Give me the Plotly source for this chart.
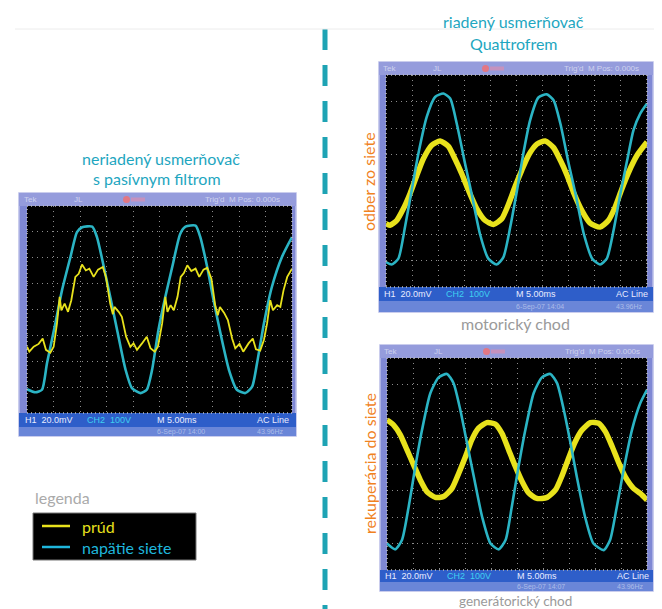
import plotly.graph_objects as go

# ---------------- data (time in ms, amplitude in screen divisions) ----------------
# left scope: uncontrolled rectifier with passive filter
left_volt_t = [0, 1.57, 2.83, 3.77, 5.35, 6.6, 8.2, 9.43, 10.4, 12.3, 13.2, 14.5, 15.7, 17.0, 18.6,
               19.8, 21.4, 22.6, 23.6, 24.8, 26.1, 27.4, 28.9, 29.9, 31.8, 32.7, 34.0, 35.2, 36.5,
               38.1, 39.6, 41.2, 42.5, 43.4, 44.7, 46.2, 48.1, 50]
left_volt_v = [-3.08, -3.2, -3.1, -2.08, -0.54, 0.74, 2.03, 2.99, 3.18, 3.2, 2.8, 1.64, 0.49, -0.79,
               -2.33, -3.04, -3.23, -3.1, -2.33, -0.79, 0.49, 1.64, 2.92, 3.2, 3.24, 2.8, 1.64, 0.36,
               -0.92, -2.33, -3.1, -3.23, -2.97, -2.08, -0.54, 0.87, 2.03, 2.8]
left_curr_t = [0, 0.44, 1.26, 2.2, 2.96, 3.58, 4.4, 5.03, 5.66, 6.16, 6.48, 7.1, 7.74, 8.36, 9.12,
               9.75, 10.38, 11.1, 11.76, 12.58, 13.4, 14.3, 14.9, 15.7, 16.2, 16.5, 17.3, 17.9, 18.7,
               19.5, 20.1, 20.75, 21.7, 22.6, 23.3, 24.1, 24.7, 25.5, 26.1, 26.5, 27.1, 27.7, 28.4,
               29.0, 29.6, 30.25, 31.0, 31.8, 32.5, 33.3, 34.0, 34.8, 35.5, 36.0, 36.4, 37.2, 37.9,
               38.7, 39.3, 40.1, 40.8, 41.8, 42.6, 43.2, 44.0, 44.7, 45.3, 45.9, 46.4, 47.2, 47.8,
               48.4, 49.1, 50]
left_curr_v = [-1.44, -1.63, -1.44, -1.33, -1.12, -1.56, -1.67, -1.44, -0.54, 0.49, -0.03, 0.23,
               -0.09, 0.36, 1.26, 1.38, 1.74, 1.51, 1.58, 1.26, 1.54, 1.64, 1.26, 0.23, -0.18, 0.1,
               -0.09, -0.28, -1.05, -1.44, -1.31, -1.56, -1.31, -1.05, -1.5, -1.63, -1.44, -0.54,
               0.49, -0.09, 0.17, -0.03, 0.49, 1.26, 1.41, 1.71, 1.49, 1.58, 1.26, 1.54, 1.61, 1.19,
               0.17, -0.22, 0.1, -0.13, -0.41, -1.12, -1.5, -1.33, -1.63, -1.31, -1.12, -1.54, -1.59,
               -1.18, -0.54, 0.36, -0.03, 0.17, 0.1, 0.74, 1.26, 1.58]

# right top scope: Quattrofrem, motoring
mot_volt_t = [0, 1.09, 2.37, 3.64, 4.92, 6.2, 7.8, 9.4, 11.0, 12.3, 13.55, 15.15, 16.4, 18.0, 19.6,
              21.2, 22.5, 23.8, 25.1, 26.3, 27.6, 29.2, 30.8, 32.1, 33.4, 35.0, 36.3, 37.9, 39.5,
              41.0, 42.3, 43.6, 44.9, 46.2, 47.4, 48.7, 50]
mot_volt_v = [-3.06, -3.15, -2.93, -1.74, -0.35, 1.03, 2.42, 3.17, 3.3, 3.11, 2.17, 0.65, -0.48,
              -2.0, -2.93, -3.15, -2.87, -1.74, -0.35, 1.03, 2.29, 3.15, 3.27, 3.05, 2.17, 0.65,
              -0.48, -2.0, -2.93, -3.15, -2.93, -1.86, -0.48, 0.78, 1.91, 2.54, 2.92]
mot_curr_t = [0, 0.77, 2.05, 3.32, 4.6, 5.9, 7.16, 8.76, 10.36, 11.96, 13.2, 14.5, 15.8, 17.4, 19.0,
              20.6, 22.2, 23.5, 24.7, 26.0, 27.3, 28.9, 30.5, 32.1, 33.4, 34.7, 35.9, 37.5, 39.1,
              41.0, 42.6, 43.9, 45.2, 46.5, 48.1, 50]
mot_curr_v = [-1.61, -1.67, -1.49, -1.05, -0.48, 0.21, 0.84, 1.35, 1.51, 1.31, 0.84, 0.28, -0.35,
              -1.05, -1.49, -1.64, -1.42, -0.86, -0.23, 0.4, 0.97, 1.39, 1.51, 1.26, 0.78, 0.21,
              -0.42, -1.11, -1.59, -1.74, -1.49, -0.98, -0.29, 0.34, 0.97, 1.47]

# right bottom scope: Quattrofrem, regenerating
gen_volt_t = [0, 1.6, 2.88, 4.17, 5.45, 6.73, 8.33, 9.94, 11.54, 12.8, 14.1, 15.4, 16.7, 18.3, 19.9,
              21.5, 22.8, 24.0, 25.3, 26.6, 28.2, 29.8, 31.4, 32.7, 34.0, 35.3, 36.5, 38.1, 39.7,
              41.7, 42.9, 44.2, 45.5, 47.1, 48.7, 50]
gen_volt_v = [-3.0, -3.22, -2.87, -1.61, -0.1, 1.28, 2.67, 3.27, 3.4, 3.05, 2.04, 0.78, -0.48, -2.0,
              -3.0, -3.22, -2.87, -1.61, -0.1, 1.28, 2.67, 3.27, 3.4, 3.05, 2.04, 0.78, -0.48, -2.0,
              -3.0, -3.25, -2.87, -1.61, -0.23, 1.28, 2.29, 2.8]
gen_curr_t = [0, 1.28, 2.56, 3.85, 5.13, 6.4, 7.7, 9.3, 10.9, 12.5, 13.8, 15.1, 16.3, 17.6, 19.2,
              20.8, 22.1, 23.4, 24.7, 26.0, 27.2, 28.8, 30.8, 32.4, 33.7, 34.9, 36.2, 37.5, 39.1,
              40.7, 42.0, 43.3, 44.6, 45.8, 47.4, 48.7, 50]
gen_curr_v = [1.66, 1.47, 1.1, 0.53, -0.04, -0.6, -1.05, -1.26, -1.23, -0.92, -0.35, 0.28, 0.91,
              1.35, 1.56, 1.51, 1.16, 0.53, -0.1, -0.67, -1.08, -1.3, -1.26, -0.98, -0.42, 0.21,
              0.84, 1.28, 1.56, 1.54, 1.22, 0.66, 0.03, -0.48, -0.92, -1.11, -1.36]

legend_labels = ["prúd", "napätie siete"]

# ---------------- styling ----------------
# the page body has an 8px margin, so the figure is drawn 8px smaller and
# all reference pixel positions are shifted by that offset
OFF = 8
W, H = 662 - OFF, 609 - OFF
FONT = "Lato"
YEL = "#e8e21c"
CYAN = "#2bb4c4"
TEAL = "#1ea6c0"
ORANGE = "#f0821e"
GRAY = "#9a9a9a"


def px(x):
    return (x - OFF) / W


def py(y):
    return 1 - (y - OFF) / H


fig = go.Figure()

# scope geometry (pixels): black area, frame
scopes = [
    dict(ax="", xd=(27, 292), yd=(206, 413), fx=(19, 296), top=(193, 206), bot=(413, 427), date=(427, 436),
         date_txt="6-Sep-07 14:00"),
    dict(ax="2", xd=(386, 647), yd=(75, 287), fx=(379, 653), top=(62, 75), bot=(287, 301), date=(301, 312),
         date_txt="6-Sep-07 14:04"),
    dict(ax="3", xd=(387, 647), yd=(358, 570), fx=(380, 653), top=(345, 358), bot=(570, 582), date=(582, 591),
         date_txt="6-Sep-07 14:07"),
]

series = [
    [(left_volt_t, left_volt_v, CYAN, 2.6, "spline"), (left_curr_t, left_curr_v, YEL, 1.8, "linear")],
    [(mot_curr_t, mot_curr_v, YEL, 5.5, "spline"), (mot_volt_t, mot_volt_v, CYAN, 2.6, "spline")],
    [(gen_curr_t, gen_curr_v, YEL, 5.5, "spline"), (gen_volt_t, gen_volt_v, CYAN, 2.6, "spline")],
]

shapes = []
annotations = []
layout_axes = {}

for sc, ser in zip(scopes, series):
    a = sc["ax"]
    xa, ya = "x" + a, "y" + a
    for t, v, col, w, shp in ser:
        fig.add_trace(go.Scatter(x=t, y=v, mode="lines", xaxis=xa, yaxis=ya,
                                 line=dict(color=col, width=w, shape=shp, smoothing=0.6),
                                 showlegend=False, hoverinfo="skip"))
    layout_axes["xaxis" + a] = dict(domain=[px(sc["xd"][0]), px(sc["xd"][1])], range=[0, 50], dtick=5,
                                    showgrid=True, gridcolor="#8c8c8c", griddash="1px,4px", gridwidth=1.2,
                                    zeroline=False, showticklabels=False, ticks="", anchor=ya,
                                    fixedrange=True)
    layout_axes["yaxis" + a] = dict(domain=[py(sc["yd"][1]), py(sc["yd"][0])], range=[-4, 4], dtick=1,
                                    showgrid=True, gridcolor="#8c8c8c", griddash="1px,4px", gridwidth=1.2,
                                    zeroline=False, showticklabels=False, ticks="", anchor=xa,
                                    fixedrange=True)
    fx0, fx1 = sc["fx"]
    # frame
    shapes.append(dict(type="rect", xref="paper", yref="paper", x0=px(fx0), x1=px(fx1),
                       y0=py(sc["date"][1]), y1=py(sc["top"][0]), fillcolor="#7f88d4",
                       line=dict(color="#b9bde8", width=1.5), layer="below"))
    shapes.append(dict(type="rect", xref="paper", yref="paper", x0=px(fx0), x1=px(fx1),
                       y0=py(sc["top"][1]), y1=py(sc["top"][0]), fillcolor="#959cdc",
                       line=dict(width=0), layer="below"))
    shapes.append(dict(type="rect", xref="paper", yref="paper", x0=px(fx0), x1=px(fx1),
                       y0=py(sc["bot"][1]), y1=py(sc["bot"][0]), fillcolor="#2e5ec9",
                       line=dict(width=0), layer="below"))
    shapes.append(dict(type="rect", xref="paper", yref="paper", x0=px(fx0), x1=px(fx1),
                       y0=py(sc["date"][1]), y1=py(sc["date"][0]), fillcolor="#6a86d8",
                       line=dict(width=0), layer="below"))
    # black screen (inside subplot so it sits above the frame)
    shapes.append(dict(type="rect", xref=xa + " domain", yref=ya + " domain", x0=0, x1=1, y0=0, y1=1,
                       fillcolor="black", line=dict(width=0), layer="below"))
    # dotted screen border
    shapes.append(dict(type="rect", xref=xa + " domain", yref=ya + " domain", x0=0, x1=1, y0=0, y1=1,
                       line=dict(color="#bdbdbd", width=1.5, dash="1px,3px"), layer="above"))
    # red trigger blob in top band
    ty = (sc["top"][0] + sc["top"][1]) / 2
    xl = sc["xd"][0]
    shapes.append(dict(type="circle", xref="paper", yref="paper", x0=px(xl + 96), x1=px(xl + 103),
                       y0=py(ty + 3.5), y1=py(ty - 3.5), fillcolor="rgba(245,110,110,0.8)",
                       line=dict(width=0), layer="below"))
    shapes.append(dict(type="rect", xref="paper", yref="paper", x0=px(xl + 104), x1=px(xl + 118),
                       y0=py(ty + 2), y1=py(ty - 2), fillcolor="rgba(230,140,170,0.6)",
                       line=dict(width=0), layer="below"))
    # top band faint texts
    for dx, txt in [(-5, "Tek"), (45, "JL"), (176, "Trig'd  M Pos: 0.000s")]:
        annotations.append(dict(x=px(xl + dx), y=py(ty), xref="paper", yref="paper", text=txt,
                                showarrow=False, xanchor="left", yanchor="middle",
                                font=dict(family="Liberation Sans", size=8, color="rgba(255,255,255,0.55)")))
    # bottom band texts
    by = (sc["bot"][0] + sc["bot"][1]) / 2
    for dx, txt, col in [(-4, "H1  20.0mV", "#e8ecff"), (58, "CH2  100V", "#3fd0f0"),
                         (128, "M 5.00ms", "#e8ecff"), (228, "AC Line", "#e8ecff")]:
        annotations.append(dict(x=px(xl + dx), y=py(by), xref="paper", yref="paper", text=txt,
                                showarrow=False, xanchor="left", yanchor="middle",
                                font=dict(family="Liberation Sans", size=9, color=col)))
    dy = (sc["date"][0] + sc["date"][1]) / 2
    for dx, txt in [(128, sc["date_txt"]), (228, "43.96Hz")]:
        annotations.append(dict(x=px(xl + dx), y=py(dy), xref="paper", yref="paper", text=txt,
                                showarrow=False, xanchor="left", yanchor="middle",
                                font=dict(family="Liberation Sans", size=7, color="rgba(255,255,255,0.45)")))

# dashed divider
shapes.append(dict(type="line", xref="paper", yref="paper", x0=px(325), x1=px(325), y0=py(29), y1=py(640),
                   line=dict(color="#1ea3b4", width=5, dash="21px,15px")))
# faint top line
shapes.append(dict(type="line", xref="paper", yref="paper", x0=px(15), x1=px(655), y0=py(29), y1=py(29),
                   line=dict(color="#ececec", width=1)))


def text(x, y, s, color, size, angle=0, anchor="center"):
    annotations.append(dict(x=px(x), y=py(y), xref="paper", yref="paper", text=s, showarrow=False,
                            xanchor=anchor, yanchor="middle", textangle=angle,
                            font=dict(family=FONT, size=size, color=color)))


text(161, 158, "neriadený usmerňovač", TEAL, 16)
text(157, 179, "s pasívnym filtrom", TEAL, 16)
text(514, 22, "riadený usmerňovač", TEAL, 16)
text(514, 44, "Quattrofrem", TEAL, 16)
text(369, 182, "odber zo siete", ORANGE, 16, angle=-90)
text(369, 464, "rekuperácia do siete", ORANGE, 16, angle=-90)
text(515, 323, "motorický chod", GRAY, 16)
text(515, 600.5, "generátorický chod", GRAY, 13.5)

# legend
text(33, 497, "legenda", "#aaaaaa", 16, anchor="left")
shapes.append(dict(type="rect", xref="paper", yref="paper", x0=px(33), x1=px(196), y0=py(560), y1=py(513),
                   fillcolor="black", line=dict(color="#777777", width=1)))
for i, (lab, col) in enumerate(zip(legend_labels, [YEL, "#1fb6dc"])):
    yy = 526 + i * 21
    shapes.append(dict(type="line", xref="paper", yref="paper", x0=px(42), x1=px(70), y0=py(yy), y1=py(yy),
                       line=dict(color=col, width=2.5)))
    text(80, yy, lab, col, 16, anchor="left")

fig.update_layout(
    width=W, height=H, margin=dict(l=0, r=0, t=0, b=0),
    paper_bgcolor="white", plot_bgcolor="black",
    shapes=shapes, annotations=annotations, showlegend=False,
    **layout_axes,
)

fig.write_html("out.html", config={"displayModeBar": False})
